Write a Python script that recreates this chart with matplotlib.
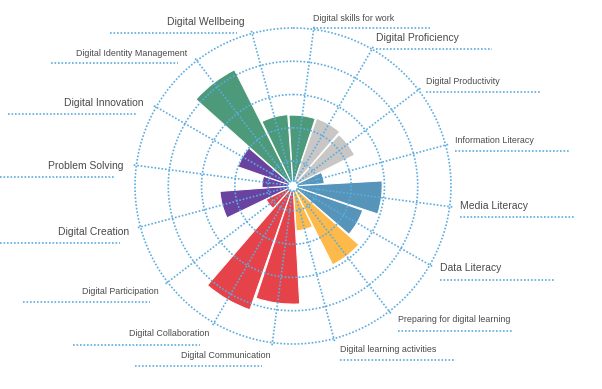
import numpy as np
import matplotlib
matplotlib.use("Agg")
import matplotlib.pyplot as plt

plt.rcParams['font.family'] = ['Liberation Sans', 'DejaVu Sans']

# ---- data ----
categories = ["Digital skills for work", "Digital Proficiency", "Digital Productivity",
              "Information Literacy", "Media Literacy", "Data Literacy",
              "Preparing for digital learning", "Digital learning activities",
              "Digital Communication", "Digital Collaboration", "Digital Participation",
              "Digital Creation", "Problem Solving", "Digital Innovation",
              "Digital Identity Management", "Digital Wellbeing"]
values = [2.38, 2.40, 2.32, 1.19, 2.93, 2.47, 2.90, 1.60,
          3.80, 4.19, 1.15, 2.45, 1.18, 2.00, 4.16, 2.40]
bar_colors = ["#4c9a7a", "#c9c7c5", "#c9c7c5", "#5694b9", "#5694b9", "#5694b9",
              "#fdb94a", "#fdb94a", "#e5424a", "#e5424a", "#e5424a",
              "#6a43a0", "#6a43a0", "#6a43a0", "#4c9a7a", "#4c9a7a"]
ring_values = [1, 2, 3, 4, 5]

# ---- layout (pixel coords, y from top) ----
W, H = 602, 389
cx, cy, R = 293, 186, 158
big = {"Digital Proficiency", "Media Literacy", "Data Literacy", "Digital Creation",
       "Problem Solving", "Digital Innovation", "Digital Wellbeing"}
# (text x, text y, align, line y, line x0, line x1)
label_layout = [
    (313, 18, 'left', 28, 313, 430),
    (376, 38, 'left', 49, 376, 492),
    (426, 81, 'left', 92, 426, 540),
    (455, 140, 'left', 151, 455, 570),
    (460, 206, 'left', 217, 460, 575),
    (440, 268, 'left', 280, 440, 555),
    (398, 319, 'left', 331, 398, 512),
    (340, 349, 'left', 360, 340, 455),
    (271, 355, 'right', 366, 135, 262),
    (209, 334, 'right', 345, 73, 200),
    (159, 291, 'right', 302, 23, 150),
    (129, 232, 'right', 243, 0, 120),
    (124, 166, 'right', 177, 0, 115),
    (144, 103, 'right', 114, 8, 136),
    (187, 53, 'right', 63, 51, 178),
    (245, 22, 'right', 33, 110, 237),
]

grid_color = "#5cacdf"
dot = (0, (1, 1.1))
glw = 1.2

fig = plt.figure(figsize=(W / 100, H / 100), dpi=100)
fig.patch.set_facecolor("white")

ax = fig.add_axes([(cx - R) / W, (H - cy - R) / H, 2 * R / W, 2 * R / H], projection='polar')
ax.set_theta_zero_location('N')
ax.set_theta_direction(-1)
ax.set_ylim(0.25, 5)
ax.axis('off')

n = len(categories)
theta = np.deg2rad(7.5 + 22.5 * np.arange(n))
hole = 0.40
ax.bar(theta, np.array(values) - hole, bottom=hole, width=np.deg2rad(22.5 - 1.0),
       color=bar_colors, edgecolor='white', linewidth=0.7, zorder=2)

tt = np.linspace(0, 2 * np.pi, 500)
for v in ring_values + [hole]:
    ax.plot(tt, np.full_like(tt, v), color=grid_color, lw=glw, ls=dot, zorder=3, clip_on=False)
for t in theta:
    ax.plot([t, t], [hole, 5.1], color=grid_color, lw=glw, ls=dot, zorder=3, clip_on=False)

ov = fig.add_axes([0, 0, 1, 1])
ov.set_xlim(0, W)
ov.set_ylim(H, 0)
ov.axis('off')
for name, (tx, ty, ha, ly, lx0, lx1) in zip(categories, label_layout):
    ov.text(tx, ty, name, ha=ha, va='center', color="#4a4a4a",
            fontsize=7.5 if name in big else 6.4)
    ov.plot([lx0, lx1], [ly, ly], color=grid_color, lw=glw, ls=dot)

fig.savefig("out.png", dpi=100)
